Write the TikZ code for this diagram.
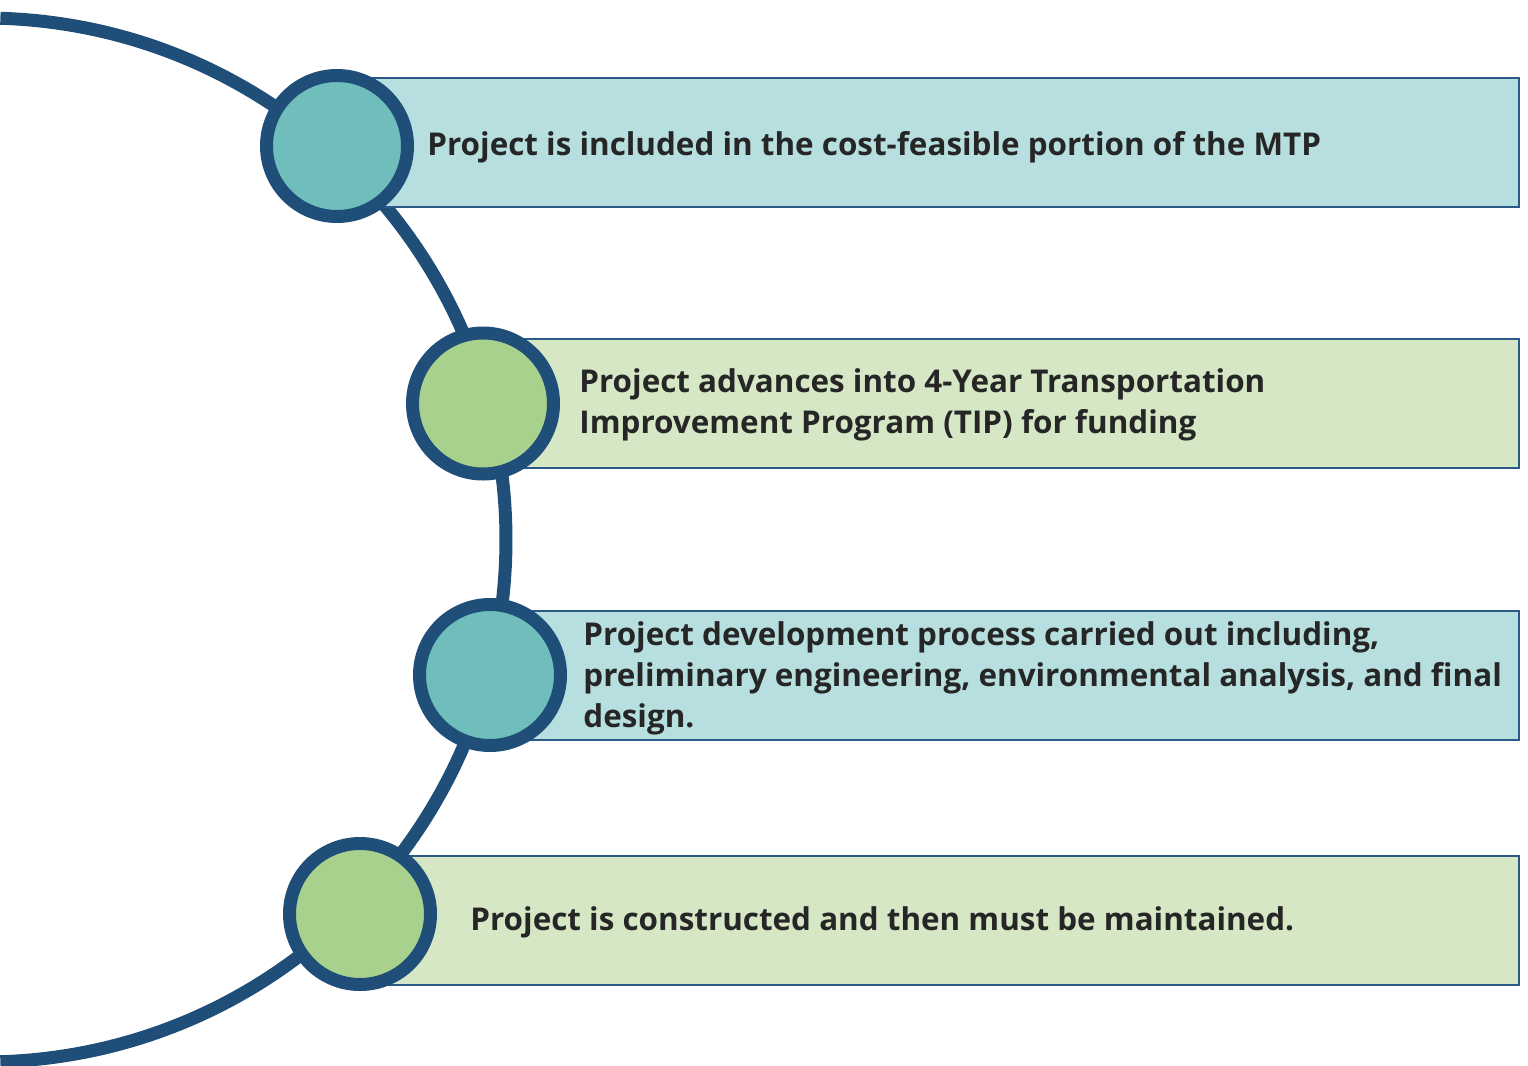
\documentclass[tikz,border=0pt]{standalone}
\usepackage{fontspec}
\setmainfont{Open Sans}
\usetikzlibrary{positioning}
\definecolor{cline}{HTML}{1F4E79}
\definecolor{cedge}{HTML}{2B5A86}
\definecolor{cteal}{HTML}{6FBEBB}
\definecolor{cteallt}{HTML}{B7DFDF}
\definecolor{cgreen}{HTML}{A9D18E}
\definecolor{cgreenlt}{HTML}{D5E7C5}
\definecolor{ctext}{HTML}{262626}
\tikzset{
  stage/.style={circle, draw=cline, line width=6.5pt, minimum size=70.5pt, inner sep=0pt},
  tealdot/.style={stage, fill=cteal},
  greendot/.style={stage, fill=cgreen},
  band/.style={rectangle, draw=cedge, line width=1pt, minimum height=64.5pt, inner sep=0pt, anchor=west},
  tealband/.style={band, fill=cteallt},
  greenband/.style={band, fill=cgreenlt},
  txt/.style={anchor=west, align=left, text=ctext, font=\bfseries\fontsize{15.7}{20.5}\selectfont, inner sep=0pt},
}
\begin{document}
\begin{tikzpicture}[x=0.5pt,y=-0.5pt]
\useasboundingbox (0,0) rectangle (1528,1066);
% backbone arc
\draw[cline, line width=6.5pt] (-16,540) ++(-88.2:522) arc[start angle=-88.2, end angle=88.2, radius=522];
% bands behind the dots
\node[tealband, minimum width=590.5pt] (b1) at (337,142) {};
\node[greenband, minimum width=517.5pt] (b2) at (483,403.5) {};
\node[tealband, minimum width=514pt] (b3) at (490,675.5) {};
\node[greenband, minimum width=579pt] (b4) at (360,920.5) {};
% dots
\node[tealdot] (c1) at (337,146) {};
\node[greendot] (c2) at (483,403.5) {};
\node[tealdot] (c3) at (490,675) {};
\node[greendot] (c4) at (360,914) {};
% labels
\node[txt] (t1) at (427,147) {Project is included in the cost-feasible portion of the MTP};
\node[txt] (t2) at (579,405) {Project advances into 4-Year Transportation\\Improvement Program (TIP) for funding};
\node[txt] (t3) at (583,678) {Project development process carried out including,\\preliminary engineering, environmental analysis, and final\\design.};
\node[txt] (t4) at (470,922) {Project is constructed and then must be maintained.};
\end{tikzpicture}
\end{document}
